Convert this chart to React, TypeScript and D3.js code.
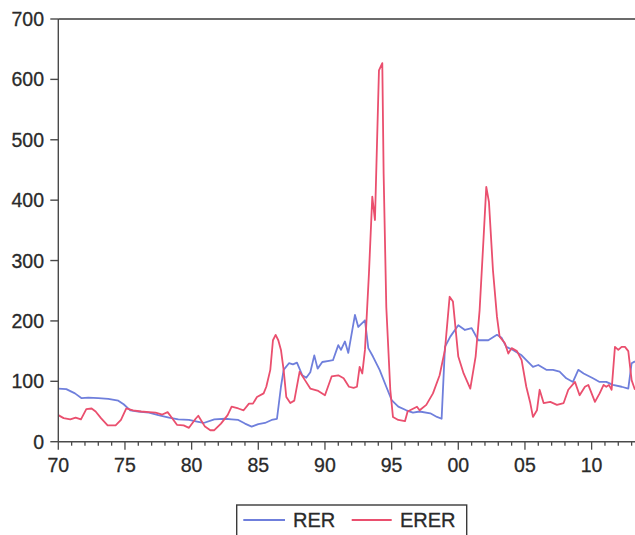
import React from 'react';
import * as d3 from 'd3';

// RER and ERER (decimal years)
const rerYears = [
  1970.0, 1970.6, 1971.25, 1971.75, 1972.25, 1973.0, 1973.75, 1974.5, 1974.9, 1975.4,
  1976.0, 1976.8, 1977.5, 1978.3, 1979.0, 1979.8, 1980.5, 1980.9, 1981.7, 1982.5,
  1983.0, 1983.5, 1984.0, 1984.5, 1985.0, 1985.5, 1986.0, 1986.4, 1986.7, 1986.9,
  1987.3, 1987.6, 1987.9, 1988.3, 1988.6, 1988.9, 1989.2, 1989.45, 1989.8, 1990.3,
  1990.6, 1991.0, 1991.2, 1991.5, 1991.75, 1992.25, 1992.5, 1993.0, 1993.25, 1993.6,
  1994.1, 1994.6, 1995.0, 1995.5, 1996.1, 1996.6, 1997.1, 1997.9, 1998.4, 1998.75,
  1999.0, 1999.4, 2000.0, 2000.5, 2001.0, 2001.5, 2002.25, 2002.9, 2003.25, 2003.6,
  2004.1, 2004.75, 2005.1, 2005.6, 2006.0, 2006.6, 2007.1, 2007.6, 2008.1, 2008.6,
  2009.0, 2009.4, 2010.1, 2010.6, 2011.1, 2011.6, 2012.25, 2012.75, 2013.0, 2013.25,
];
const rerValues = [
  88, 87, 80, 72, 73, 72, 71, 68, 62, 52,
  50, 48, 44, 40, 37, 36, 33, 31, 37, 38,
  37, 36, 30, 25, 29, 31, 36, 38, 91, 119,
  130, 128, 131, 110, 106, 115, 143, 121, 132, 134,
  135, 160, 152, 166, 147, 210, 190, 201, 155, 141,
  119, 91, 69, 58, 52, 48, 50, 47, 41, 38,
  157, 174, 193, 185, 188, 168, 168, 177, 172, 157,
  152, 143, 135, 124, 127, 119, 119, 116, 105, 99,
  119, 113, 105, 99, 99, 94, 91, 88, 130, 133,
];

const ererYears = [
  1970.0, 1970.4, 1970.9, 1971.3, 1971.7, 1972.1, 1972.5, 1972.8, 1973.2, 1973.7,
  1974.3, 1974.7, 1975.1, 1975.6, 1976.2, 1976.8, 1977.3, 1977.8, 1978.2, 1978.5,
  1978.9, 1979.4, 1979.8, 1980.3, 1980.5, 1981.0, 1981.4, 1981.7, 1982.2, 1982.7,
  1983.0, 1983.5, 1983.9, 1984.3, 1984.6, 1984.9, 1985.4, 1985.6, 1985.9, 1986.1,
  1986.3, 1986.5, 1986.7, 1986.9, 1987.1, 1987.4, 1987.7, 1988.1, 1988.5, 1988.9,
  1989.5, 1990.0, 1990.5, 1991.0, 1991.4, 1991.8, 1992.15, 1992.4, 1992.6, 1992.8,
  1993.0, 1993.3, 1993.55, 1993.75, 1994.05, 1994.3, 1994.4, 1994.6, 1994.9, 1995.1,
  1995.5, 1996.0, 1996.2, 1996.9, 1997.1, 1997.6, 1998.1, 1998.6, 1999.0, 1999.35,
  1999.6, 2000.0, 2000.4, 2000.9, 2001.3, 2001.6, 2001.9, 2002.1, 2002.3, 2002.6,
  2002.9, 2003.1, 2003.5, 2003.75, 2004.0, 2004.4, 2004.75, 2005.1, 2005.4, 2005.6,
  2005.9, 2006.1, 2006.4, 2006.9, 2007.4, 2007.9, 2008.25, 2008.75, 2009.1, 2009.5,
  2009.75, 2010.25, 2010.6, 2010.9, 2011.1, 2011.3, 2011.5, 2011.75, 2012.0, 2012.25,
  2012.5, 2012.75, 2013.0, 2013.25,
];
const ererValues = [
  44, 39, 37, 40, 37, 54, 55, 50, 39, 27,
  27, 36, 55, 52, 50, 49, 48, 45, 49, 40,
  28, 27, 23, 38, 43, 25, 19, 19, 30, 44,
  58, 55, 52, 63, 63, 74, 80, 91, 119, 168,
  177, 168, 152, 119, 74, 64, 68, 116, 102, 88,
  84, 77, 108, 110, 105, 91, 89, 91, 124, 113,
  152, 279, 406, 367, 615, 627, 444, 223, 86, 41,
  36, 34, 50, 58, 52, 61, 80, 110, 152, 240,
  232, 141, 113, 88, 141, 218, 339, 422, 397, 284,
  207, 174, 163, 146, 155, 150, 135, 91, 64, 41,
  52, 86, 64, 66, 61, 64, 86, 99, 77, 91,
  94, 66, 80, 94, 91, 94, 86, 157, 152, 157,
  157, 150, 102, 86,
];

const yTicks = [0, 100, 200, 300, 400, 500, 600, 700];
const xTickYears = [1970, 1975, 1980, 1985, 1990, 1995, 2000, 2005, 2010];

const W = 635;
const H = 535;
const left = 58.3;
const top = 19;
const bottom = 441.7;
const font = '"Liberation Sans", Arial, sans-serif';
const blue = '#6f7fdc';
const red = '#ea4f6e';
const axisColor = '#4a4a4a';
const textColor = '#2a2a2a';

export default function App() {
  const x = d3.scaleLinear().domain([1970, 2014]).range([left, left + 44 * 13.333]);
  const y = d3.scaleLinear().domain([0, 700]).range([bottom, top]);

  const line = d3
    .line<[number, number]>()
    .x((d) => x(d[0]))
    .y((d) => y(d[1]));

  const rer = rerYears.map((t, i) => [t, rerValues[i]] as [number, number]);
  const erer = ererYears.map((t, i) => [t, ererValues[i]] as [number, number]);
  const minorYears = d3.range(1970, 2015);

  return (
    <svg
      width={W}
      height={H}
      style={{ position: 'absolute', left: 0, top: 0, background: '#fff' }}
      fontFamily={font}
    >
      {/* lines */}
      <path d={line(rer) ?? ''} fill="none" stroke={blue} strokeWidth={1.8} strokeLinejoin="round" />
      <path d={line(erer) ?? ''} fill="none" stroke={red} strokeWidth={1.8} strokeLinejoin="round" />

      {/* frame: left axis, top border, bottom axis */}
      <line x1={left} x2={left} y1={top} y2={bottom} stroke={axisColor} strokeWidth={1.4} />
      <line x1={left} x2={W} y1={top} y2={top} stroke="#3a3a3a" strokeWidth={1.7} />
      <line x1={left} x2={W} y1={bottom} y2={bottom} stroke={axisColor} strokeWidth={1.4} />

      {/* y axis */}
      {yTicks.map((v) => (
        <g key={v}>
          <line x1={left - 8} x2={left} y1={y(v)} y2={y(v)} stroke={axisColor} strokeWidth={1.4} />
          <text
            x={44}
            y={y(v) + 7}
            textAnchor="end"
            fontSize={19.5}
            fill={textColor}
            stroke={textColor}
            strokeWidth={0.3}
          >
            {v}
          </text>
        </g>
      ))}

      {/* x axis */}
      {minorYears.map((t) => (
        <line
          key={t}
          x1={x(t)}
          x2={x(t)}
          y1={bottom}
          y2={bottom + (t % 5 === 0 ? 8 : 4)}
          stroke={axisColor}
          strokeWidth={1.3}
        />
      ))}
      {xTickYears.map((t) => (
        <text
          key={t}
          x={x(t)}
          y={472}
          textAnchor="middle"
          fontSize={19.5}
          fill={textColor}
          stroke={textColor}
          strokeWidth={0.3}
        >
          {String(t % 100).padStart(2, '0')}
        </text>
      ))}

      {/* legend */}
      <rect x={236.7} y={505} width={230} height={34} fill="#fff" stroke="#3a3a3a" strokeWidth={1.4} />
      <line x1={243.3} x2={285} y1={520} y2={520} stroke={blue} strokeWidth={1.8} />
      <text x={293} y={527} fontSize={20} fill={textColor} stroke={textColor} strokeWidth={0.3}>
        RER
      </text>
      <line x1={351.7} x2={391.7} y1={520} y2={520} stroke={red} strokeWidth={1.8} />
      <text x={400} y={527} fontSize={20} fill={textColor} stroke={textColor} strokeWidth={0.3}>
        ERER
      </text>
    </svg>
  );
}
